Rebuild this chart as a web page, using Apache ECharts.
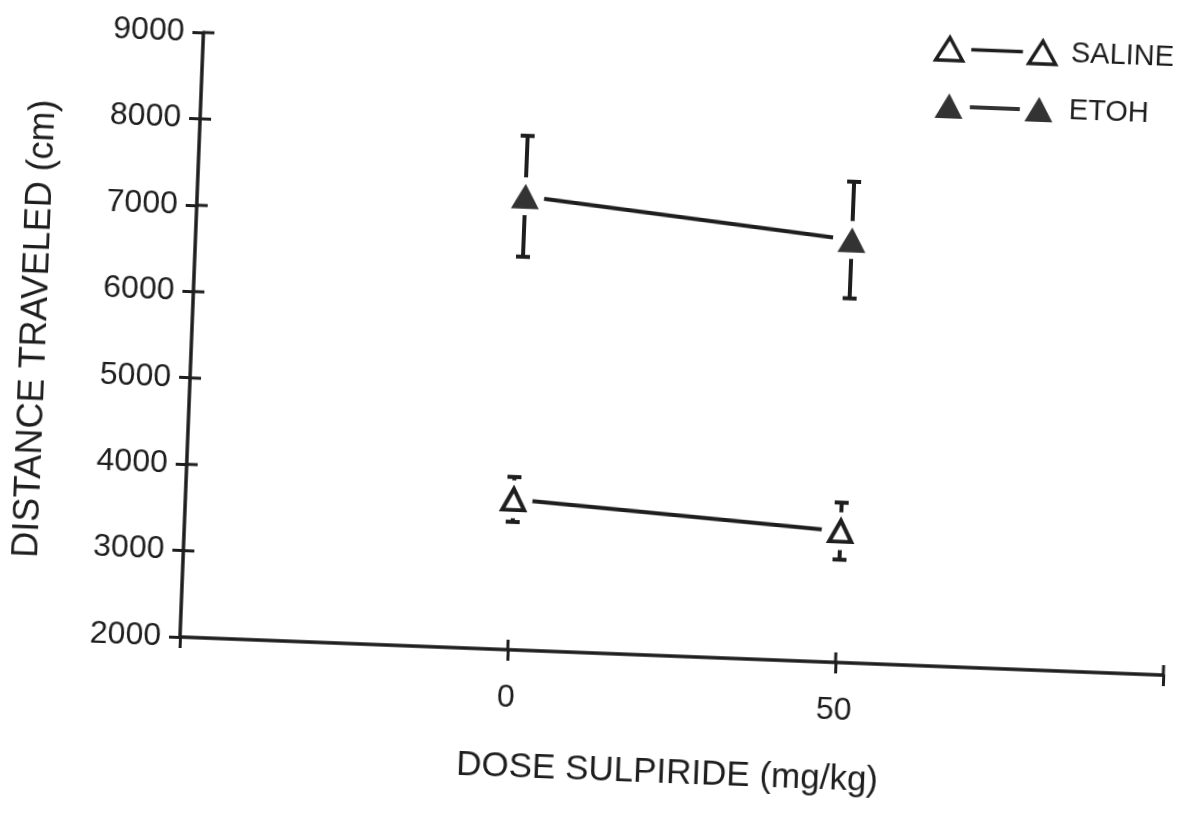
<!DOCTYPE html>
<html>
<head>
<meta charset="utf-8">
<title>Distance traveled vs sulpiride dose</title>
<script src="https://cdn.jsdelivr.net/npm/echarts@6/dist/echarts.min.js"></script>
<style>
  html, body { margin: 0; padding: 0; background: #fff; overflow: hidden; }
  /* the printed figure sits slightly tilted on the page */
  #chart {
    position: absolute; left: 0; top: 0;
    width: 1188px; height: 815px;
    transform-origin: 180px 637px;
    transform: rotate(2.22deg);
  }
</style>
</head>
<body>
<div id="chart"></div>
<script>
// Sulpiride dose (mg/kg)
const doses = [0, 50];
const doseLabels = ['0', '50'];

// Mean distance traveled (cm) and SEM
const salineMean = [3740, 3520];
const salineSem = [260, 330];
const etohMean = [7250, 6890];
const etohSem = [700, 675];

// Axis ticks
const xTickValues = [-50, 0, 50, 100];
const yTickValues = [2000, 3000, 4000, 5000, 6000, 7000, 8000, 9000];

const ink = '#1e1e1e';
const font = 'Liberation Sans, Arial, sans-serif';

const xMin = xTickValues[0], xMax = xTickValues[xTickValues.length - 1];
const yMin = yTickValues[0], yMax = yTickValues[yTickValues.length - 1];

const pts = (means) => doses.map((d, i) => [d, means[i]]);
const bars = (means, sems) => doses.map((d, i) => [d, means[i] - sems[i], means[i] + sems[i]]);

function errorBar(params, api) {
  const x = api.value(0);
  const lo = api.coord([x, api.value(1)]);
  const hi = api.coord([x, api.value(2)]);
  const cap = 7;
  const style = { stroke: ink, lineWidth: 4, lineCap: 'butt' };
  return {
    type: 'group',
    children: [
      { type: 'line', shape: { x1: hi[0], y1: hi[1], x2: lo[0], y2: lo[1] }, style },
      { type: 'line', shape: { x1: hi[0] - cap, y1: hi[1], x2: hi[0] + cap, y2: hi[1] }, style },
      { type: 'line', shape: { x1: lo[0] - cap, y1: lo[1], x2: lo[0] + cap, y2: lo[1] }, style }
    ]
  };
}

// inward half of each crossing tick (the outward half comes from the axis itself)
function innerYTick(params, api) {
  const p = api.coord([api.value(0), api.value(1)]);
  return { type: 'line', shape: { x1: p[0], y1: p[1], x2: p[0] + 11, y2: p[1] }, style: { stroke: ink, lineWidth: 3 } };
}
function innerXTick(params, api) {
  const p = api.coord([api.value(0), api.value(1)]);
  return { type: 'line', shape: { x1: p[0], y1: p[1], x2: p[0], y2: p[1] - 10 }, style: { stroke: ink, lineWidth: 3 } };
}
const innerYTickData = yTickValues.slice(1).map((v) => [xMin, v]);
const innerXTickData = xTickValues.slice(1).map((v) => [v, yMin]);

const chart = echarts.init(document.getElementById('chart'), null, { renderer: 'canvas' });

chart.setOption({
  animation: false,
  backgroundColor: '#fff',
  textStyle: { fontFamily: font, color: ink },
  grid: { left: 180, top: 32, width: 984, height: 605, containLabel: false, outerBoundsMode: 'none' },
  legend: {
    orient: 'vertical',
    left: 906,
    top: 0,
    itemWidth: 120,
    itemHeight: 25,
    itemGap: 28,
    selectedMode: false,
    textStyle: { fontFamily: font, fontSize: 29, color: ink, padding: [0, 0, 0, 10], lineHeight: 27 },
    data: [
      {
        name: 'SALINE',
        icon: 'path://M2,24 L15,2 L28,24 Z M36,13 L86,13 M92,24 L105,2 L118,24 Z',
        itemStyle: { color: '#fff', borderColor: ink, borderWidth: 3.5 }
      },
      {
        name: 'ETOH',
        icon: 'path://M1,25 L15,0 L29,25 Z M36,11 L86,11 L86,15 L36,15 Z M91,25 L105,0 L119,25 Z',
        itemStyle: { color: '#333', borderWidth: 0 }
      }
    ]
  },
  xAxis: {
    type: 'value',
    min: xMin,
    max: xMax,
    interval: xTickValues[1] - xTickValues[0],
    position: 'bottom',
    splitLine: { show: false },
    axisLine: { show: true, onZero: false, lineStyle: { color: ink, width: 3.5 } },
    axisTick: { show: true, inside: false, length: 11, lineStyle: { color: ink, width: 3 } },
    axisLabel: {
      margin: 32,
      fontSize: 32,
      fontFamily: font,
      color: ink,
      formatter: (v) => {
        const i = doses.indexOf(v);
        return i >= 0 ? doseLabels[i] : '';
      }
    },
    name: 'DOSE SULPIRIDE (mg/kg)',
    nameLocation: 'middle',
    nameGap: 100,
    nameTextStyle: { fontSize: 35, fontFamily: font, color: ink }
  },
  yAxis: {
    type: 'value',
    min: yMin,
    max: yMax,
    interval: yTickValues[1] - yTickValues[0],
    position: 'left',
    splitLine: { show: false },
    axisLine: { show: true, onZero: false, lineStyle: { color: ink, width: 3.5 } },
    axisTick: { show: true, inside: false, length: 11, lineStyle: { color: ink, width: 3 } },
    axisLabel: { margin: 19, fontSize: 32, fontFamily: font, color: ink, formatter: (v) => String(v) },
    name: 'DISTANCE TRAVELED (cm)',
    nameLocation: 'middle',
    nameRotate: 90,
    nameGap: 138,
    nameTextStyle: { fontSize: 36, fontFamily: font, color: ink }
  },
  series: [
    { name: 'y-ticks', type: 'custom', renderItem: innerYTick, data: innerYTickData, z: 5, silent: true, clip: false },
    { name: 'x-ticks', type: 'custom', renderItem: innerXTick, data: innerXTickData, z: 5, silent: true, clip: false },
    {
      name: 'saline-line', type: 'line', data: pts(salineMean), symbol: 'none', z: 2,
      lineStyle: { color: ink, width: 4 }, silent: true
    },
    {
      name: 'etoh-line', type: 'line', data: pts(etohMean), symbol: 'none', z: 2,
      lineStyle: { color: ink, width: 4 }, silent: true
    },
    { name: 'saline-sem', type: 'custom', renderItem: errorBar, data: bars(salineMean, salineSem), z: 2, silent: true },
    { name: 'etoh-sem', type: 'custom', renderItem: errorBar, data: bars(etohMean, etohSem), z: 2, silent: true },
    {
      // white clearance around each marker
      name: 'clearance', type: 'scatter', symbol: 'circle', symbolSize: 38, z: 3, silent: true,
      itemStyle: { color: '#fff', opacity: 1 },
      data: pts(salineMean).concat(pts(etohMean))
    },
    {
      name: 'SALINE', type: 'scatter', symbol: 'triangle', symbolSize: [22, 21], z: 4,
      itemStyle: { color: '#fff', borderColor: ink, borderWidth: 4, opacity: 1 },
      data: pts(salineMean)
    },
    {
      name: 'ETOH', type: 'scatter', symbol: 'triangle', symbolSize: [28, 25], z: 4,
      itemStyle: { color: '#333', opacity: 1 },
      data: pts(etohMean)
    }
  ]
});
</script>
</body>
</html>
